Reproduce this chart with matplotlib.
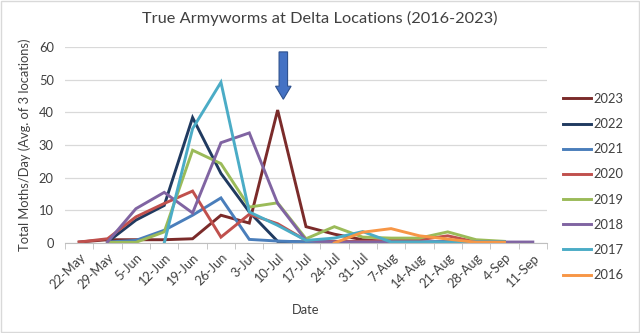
import numpy as np
import matplotlib
matplotlib.use("Agg")
import matplotlib.pyplot as plt
from matplotlib.patches import FancyArrow, Rectangle

nan = np.nan
dates = ["22-May", "29-May", "5-Jun", "12-Jun", "19-Jun", "26-Jun", "3-Jul", "10-Jul",
         "17-Jul", "24-Jul", "31-Jul", "7-Aug", "14-Aug", "21-Aug", "28-Aug", "4-Sep", "11-Sep"]

y2023 = [0.3, 1.0, 1.0, 1.0, 1.3, 8.5, 6.1, 40.7, 5.0, 2.7, 1.0, 0.3, nan, nan, nan, nan, nan]
y2022 = [nan, 0.3, 7.0, 11.5, 38.4, 21.3, 9.5, 0.5, 0.3, nan, nan, nan, nan, nan, nan, nan, nan]
y2021 = [nan, 0.3, 0.8, 3.9, 8.5, 13.8, 1.1, 0.6, 0.3, 0.3, 0.3, 0.3, 0.3, 0.5, 0.3, 0.3, nan]
y2020 = [0.3, 1.3, 8.0, 12.1, 15.9, 1.8, 8.8, 5.9, 0.8, 0.5, 0.5, 0.8, 1.0, 2.2, 0.3, nan, nan]
y2019 = [nan, 0.2, 0.2, 3.4, 28.4, 24.3, 11.0, 12.3, 1.3, 5.0, 1.8, 1.5, 1.5, 3.4, 1.0, 0.5, nan]
y2018 = [nan, 0.3, 10.5, 15.5, 9.2, 30.7, 33.7, 12.1, 0.8, 0.3, 0.3, 0.3, 0.3, 0.3, 0.3, 0.3, 0.3]
y2017 = [nan, nan, nan, 0.0, 35.0, 49.2, 9.5, 5.4, 0.8, 1.5, 3.5, 0.3, 0.3, 0.3, 0.3, 0.3, nan]
y2016 = [nan, nan, nan, nan, nan, nan, nan, nan, nan, 0.0, 3.3, 4.4, 2.2, 1.2, 0.2, 0.2, nan]

series = [("2023", y2023, "#7B2B2A"), ("2022", y2022, "#203A60"), ("2021", y2021, "#4A7EBB"),
          ("2020", y2020, "#C0504D"), ("2019", y2019, "#9BBB59"), ("2018", y2018, "#8064A2"),
          ("2017", y2017, "#4BACC6"), ("2016", y2016, "#F79646")]

plt.rcParams['font.family'] = ['Lato', 'DejaVu Sans']

fig = plt.figure(figsize=(6.4, 3.33), dpi=100)
ax = fig.add_axes([65/640, 1-243/333, (547-65)/640, (243-47)/333])

x = np.arange(len(dates))
for name, vals, col in series:
    ax.plot(x, vals, color=col, lw=2.1, label=name, solid_joinstyle='miter')

ax.set_xlim(-0.5, len(dates)-0.5)
ax.set_ylim(0, 60)
ax.set_yticks(range(0, 61, 10))
ax.grid(axis='y', color='#D9D9D9', lw=0.9)
ax.set_axisbelow(True)
for s in ['top', 'right', 'left']:
    ax.spines[s].set_visible(False)
ax.spines['bottom'].set_color('#BFBFBF')
ax.set_xticks(x)
ax.set_xticklabels(dates, rotation=45, ha='right', rotation_mode='anchor', fontsize=9.3, color='#404040')
ax.tick_params(axis='x', which='major', length=0, pad=6)
ax.set_xticks(np.arange(-0.5, len(dates), 1), minor=True)
ax.tick_params(axis='x', which='minor', length=4, color='#BFBFBF')
ax.tick_params(axis='y', length=0, labelsize=9.3, labelcolor='#404040', pad=8)

ax.set_xlabel("Date", fontsize=9.3, color='#404040', labelpad=9)
ax.set_ylabel("Total Moths/Day (Avg. of 3 locations)", fontsize=9.3, color='#404040', labelpad=6)
fig.text(0.5, 1-18/333, "True Armyworms at Delta Locations (2016-2023)", ha='center', va='center',
         fontsize=11.8, color='#404040')

ax.legend(loc='upper left', bbox_to_anchor=(1.01, 0.825), frameon=False, fontsize=9.3,
          handlelength=2.1, handletextpad=0.2, labelspacing=1.02, labelcolor='#404040')

arr = FancyArrow(7.2, 58.5, 0, -14.5, width=0.3, head_width=0.55, head_length=4.0,
                 length_includes_head=True, facecolor='#4472C4', edgecolor='#2F528F', lw=0.8,
                 clip_on=False, zorder=5)
ax.add_patch(arr)

fig.patches.append(Rectangle((0.002, 0.003), 0.996, 0.994, transform=fig.transFigure,
                             fill=False, edgecolor='#D9D9D9', lw=1))

fig.savefig("out.png", dpi=100)
